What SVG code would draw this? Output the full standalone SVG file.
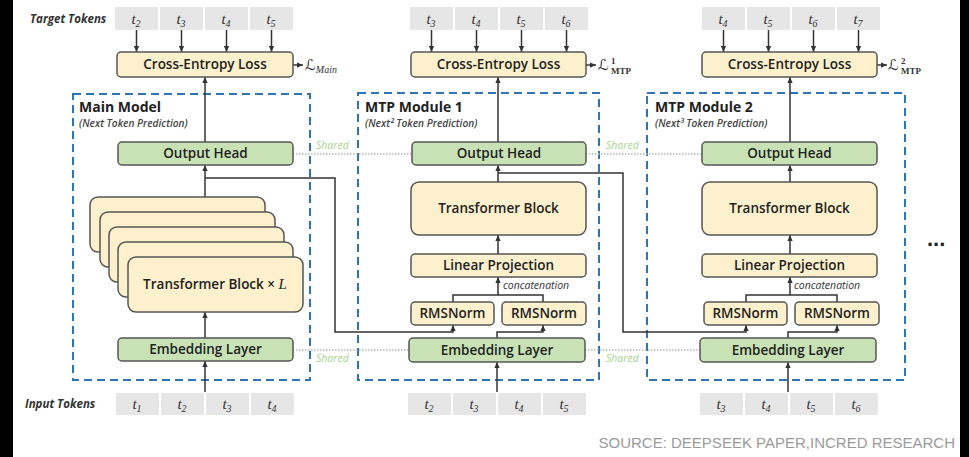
<svg xmlns="http://www.w3.org/2000/svg" width="969" height="457" viewBox="0 0 969 457">
<defs>
  <marker id="arr" viewBox="0 0 8 8" refX="8" refY="4" markerWidth="6" markerHeight="6" markerUnits="userSpaceOnUse" orient="auto">
    <path d="M0,0.5 L8,4 L0,7.5 z" fill="#333"/>
  </marker>
</defs>
<style>
  .tok{fill:#e6e6e6}
  .tl{font-family:"Liberation Serif",serif;font-style:italic;font-size:15px;fill:#333;text-anchor:middle}
  .sub{font-size:10px}
  .ylw{fill:#fdf0cc;stroke:#555;stroke-width:1.5}
  .grn{fill:#c8e2b6;stroke:#555;stroke-width:1.5}
  .bt{font-family:"Open Sans",sans-serif;font-size:13.5px;font-weight:600;fill:#222;text-anchor:middle}
  .mod{fill:none;stroke:#2e75b6;stroke-width:2;stroke-dasharray:8 5}
  .ttl{font-family:"Open Sans",sans-serif;font-size:14px;font-weight:700;fill:#222}
  .sttl{font-family:"Open Sans",sans-serif;font-size:10.2px;font-style:italic;font-weight:600;fill:#444}
  .side{font-family:"Open Sans",sans-serif;font-size:11.5px;font-style:italic;font-weight:700;fill:#333}
  .ln{fill:none;stroke:#333;stroke-width:1.5}
  .ar{fill:none;stroke:#333;stroke-width:1.5;marker-end:url(#arr)}
  .sh{fill:none;stroke:#b0bfae;stroke-width:1.5;stroke-dasharray:1.5 1.5}
  .shl{font-family:"Open Sans",sans-serif;font-size:10.5px;font-style:italic;fill:#a9d18e}
  .cc{font-family:"Open Sans",sans-serif;font-size:10.5px;font-style:italic;fill:#333}
  .lf{font-family:"DejaVu Serif","DejaVu Sans",serif;font-style:italic;font-size:15px;fill:#333}
  .lsub{font-family:"Liberation Serif",serif;font-size:9px;font-weight:700;fill:#333}
  .src{font-family:"Liberation Sans",Arial,sans-serif;font-size:15px;fill:#9a9a9a;text-anchor:end}
  .bar{fill:#000}
</style>

<rect x="0" y="0" width="969" height="457" fill="#fff"/>
<!-- black side bands -->
<path class="bar" d="M0 0H13V457H0Z"/>
<path class="bar" d="M960 0H969V457H960Z"/>

<!-- row captions -->
<text class="side" x="30" y="23">Target Tokens</text>
<text class="side" x="25" y="408" font-weight="600">Input Tokens</text>

<!-- target token rows -->
<g id="target-main">
  <rect class="tok" x="115" y="7" width="43" height="23"/>
  <rect class="tok" x="160" y="7" width="43" height="23"/>
  <rect class="tok" x="205" y="7" width="43" height="23"/>
  <rect class="tok" x="250" y="7" width="43" height="23"/>
  <text class="tl" x="136" y="24">t<tspan class="sub" dy="3">2</tspan></text>
  <text class="tl" x="181" y="24">t<tspan class="sub" dy="3">3</tspan></text>
  <text class="tl" x="226" y="24">t<tspan class="sub" dy="3">4</tspan></text>
  <text class="tl" x="271" y="24">t<tspan class="sub" dy="3">5</tspan></text>
</g>
<g id="target-mtp1">
  <rect class="tok" x="410" y="7" width="43" height="23"/>
  <rect class="tok" x="455" y="7" width="43" height="23"/>
  <rect class="tok" x="500" y="7" width="43" height="23"/>
  <rect class="tok" x="545" y="7" width="43" height="23"/>
  <text class="tl" x="431" y="24">t<tspan class="sub" dy="3">3</tspan></text>
  <text class="tl" x="476" y="24">t<tspan class="sub" dy="3">4</tspan></text>
  <text class="tl" x="521" y="24">t<tspan class="sub" dy="3">5</tspan></text>
  <text class="tl" x="566" y="24">t<tspan class="sub" dy="3">6</tspan></text>
</g>
<g id="target-mtp2">
  <rect class="tok" x="702" y="7" width="43" height="23"/>
  <rect class="tok" x="747" y="7" width="43" height="23"/>
  <rect class="tok" x="792" y="7" width="43" height="23"/>
  <rect class="tok" x="837" y="7" width="43" height="23"/>
  <text class="tl" x="723" y="24">t<tspan class="sub" dy="3">4</tspan></text>
  <text class="tl" x="768" y="24">t<tspan class="sub" dy="3">5</tspan></text>
  <text class="tl" x="813" y="24">t<tspan class="sub" dy="3">6</tspan></text>
  <text class="tl" x="858" y="24">t<tspan class="sub" dy="3">7</tspan></text>
</g>

<!-- input token rows -->
<g id="input-main">
  <rect class="tok" x="116" y="393" width="43" height="22"/>
  <rect class="tok" x="161" y="393" width="43" height="22"/>
  <rect class="tok" x="206" y="393" width="43" height="22"/>
  <rect class="tok" x="251" y="393" width="43" height="22"/>
  <text class="tl" x="137" y="409">t<tspan class="sub" dy="3">1</tspan></text>
  <text class="tl" x="182" y="409">t<tspan class="sub" dy="3">2</tspan></text>
  <text class="tl" x="227" y="409">t<tspan class="sub" dy="3">3</tspan></text>
  <text class="tl" x="272" y="409">t<tspan class="sub" dy="3">4</tspan></text>
</g>
<g id="input-mtp1">
  <rect class="tok" x="408" y="393" width="43" height="22"/>
  <rect class="tok" x="453" y="393" width="43" height="22"/>
  <rect class="tok" x="498" y="393" width="43" height="22"/>
  <rect class="tok" x="543" y="393" width="43" height="22"/>
  <text class="tl" x="429" y="409">t<tspan class="sub" dy="3">2</tspan></text>
  <text class="tl" x="474" y="409">t<tspan class="sub" dy="3">3</tspan></text>
  <text class="tl" x="519" y="409">t<tspan class="sub" dy="3">4</tspan></text>
  <text class="tl" x="564" y="409">t<tspan class="sub" dy="3">5</tspan></text>
</g>
<g id="input-mtp2">
  <rect class="tok" x="700" y="393" width="43" height="22"/>
  <rect class="tok" x="745" y="393" width="43" height="22"/>
  <rect class="tok" x="790" y="393" width="43" height="22"/>
  <rect class="tok" x="835" y="393" width="43" height="22"/>
  <text class="tl" x="721" y="409">t<tspan class="sub" dy="3">3</tspan></text>
  <text class="tl" x="766" y="409">t<tspan class="sub" dy="3">4</tspan></text>
  <text class="tl" x="811" y="409">t<tspan class="sub" dy="3">5</tspan></text>
  <text class="tl" x="856" y="409">t<tspan class="sub" dy="3">6</tspan></text>
</g>

<!-- module frames -->
<g id="main-model">
  <rect class="mod" x="73" y="94" width="237" height="286"/>
  <text class="ttl" x="79" y="112">Main Model</text>
  <text class="sttl" x="79" y="127">(Next Token Prediction)</text>
</g>
<g id="mtp-module-1">
  <rect class="mod" x="358" y="93" width="241" height="287"/>
  <text class="ttl" x="365" y="112">MTP Module 1</text>
  <text class="sttl" x="365" y="127">(Next² Token Prediction)</text>
</g>
<g id="mtp-module-2">
  <rect class="mod" x="647" y="93" width="258" height="287"/>
  <text class="ttl" x="655" y="112">MTP Module 2</text>
  <text class="sttl" x="655" y="127">(Next³ Token Prediction)</text>
</g>

<!-- shared-weight links -->
<g id="shared">
  <line class="sh" x1="293" y1="154" x2="412" y2="154"/>
  <line class="sh" x1="586" y1="154" x2="702" y2="154"/>
  <line class="sh" x1="293" y1="350" x2="409" y2="350"/>
  <line class="sh" x1="585" y1="350" x2="700" y2="350"/>
  <text class="shl" x="316" y="149">Shared</text>
  <text class="shl" x="606" y="149">Shared</text>
  <text class="shl" x="316" y="362">Shared</text>
  <text class="shl" x="606" y="362">Shared</text>
</g>

<!-- connectors -->
<g id="connectors">
  <!-- targets into losses -->
  <line class="ar" x1="136.5" y1="30" x2="136.5" y2="52"/>
  <line class="ar" x1="181.5" y1="30" x2="181.5" y2="52"/>
  <line class="ar" x1="226.5" y1="30" x2="226.5" y2="52"/>
  <line class="ar" x1="271.5" y1="30" x2="271.5" y2="52"/>
  <line class="ar" x1="431.5" y1="30" x2="431.5" y2="52"/>
  <line class="ar" x1="476.5" y1="30" x2="476.5" y2="52"/>
  <line class="ar" x1="521.5" y1="30" x2="521.5" y2="52"/>
  <line class="ar" x1="566.5" y1="30" x2="566.5" y2="52"/>
  <line class="ar" x1="723.5" y1="30" x2="723.5" y2="52"/>
  <line class="ar" x1="768.5" y1="30" x2="768.5" y2="52"/>
  <line class="ar" x1="813.5" y1="30" x2="813.5" y2="52"/>
  <line class="ar" x1="858.5" y1="30" x2="858.5" y2="52"/>
  <!-- loss outputs -->
  <line class="ar" x1="293" y1="65" x2="303" y2="65"/>
  <line class="ar" x1="586" y1="65" x2="596" y2="65"/>
  <line class="ar" x1="877" y1="65" x2="887" y2="65"/>
  <!-- main model path -->
  <line class="ar" x1="205" y1="392" x2="205" y2="361"/>
  <line class="ar" x1="205" y1="338" x2="205" y2="312"/>
  <line class="ar" x1="205" y1="197" x2="205" y2="165"/>
  <line class="ar" x1="205" y1="142" x2="205" y2="77"/>
  <polyline class="ar" points="205,178 335,178 335,332 453,332 453,325"/>
  <!-- MTP module 1 path -->
  <line class="ar" x1="497" y1="392" x2="497" y2="362"/>
  <polyline class="ar" points="497,338 497,332 543,332 543,325"/>
  <polyline class="ln" points="453,302 453,295 543,295 543,302"/>
  <line class="ar" x1="498" y1="295" x2="498" y2="277"/>
  <line class="ar" x1="498" y1="254" x2="498" y2="235"/>
  <line class="ar" x1="498" y1="182" x2="498" y2="165"/>
  <line class="ar" x1="498" y1="142" x2="498" y2="77"/>
  <polyline class="ar" points="498,173 623,173 623,332 746,332 746,325"/>
  <!-- MTP module 2 path -->
  <line class="ar" x1="788" y1="392" x2="788" y2="362"/>
  <polyline class="ar" points="788,338 788,332 837,332 837,325"/>
  <polyline class="ln" points="746,302 746,295 837,295 837,302"/>
  <line class="ar" x1="790" y1="295" x2="790" y2="277"/>
  <line class="ar" x1="790" y1="254" x2="790" y2="235"/>
  <line class="ar" x1="790" y1="182" x2="790" y2="165"/>
  <line class="ar" x1="790" y1="142" x2="790" y2="77"/>
</g>

<!-- loss labels -->
<text class="lf" x="305" y="70">ℒ<tspan font-family="Liberation Serif" font-size="10" dy="3">Main</tspan></text>
<text class="lf" x="598" y="70">ℒ</text>
<text class="lsub" x="611" y="64">1</text>
<text class="lsub" x="611" y="74">MTP</text>
<text class="lf" x="888" y="70">ℒ</text>
<text class="lsub" x="901" y="64">2</text>
<text class="lsub" x="901" y="74">MTP</text>

<!-- main model nodes -->
<g id="loss-main">
  <rect class="ylw" x="117" y="52" width="176" height="25" rx="4"/>
  <text class="bt" x="205" y="69">Cross-Entropy Loss</text>
</g>
<g id="head-main">
  <rect class="grn" x="118" y="142" width="175" height="23" rx="4"/>
  <text class="bt" x="205.5" y="158">Output Head</text>
</g>
<g id="blocks-main">
  <rect class="ylw" x="90" y="197" width="175" height="55" rx="8"/>
  <rect class="ylw" x="100" y="212" width="175" height="55" rx="8"/>
  <rect class="ylw" x="109" y="227" width="175" height="55" rx="8"/>
  <rect class="ylw" x="118" y="242" width="175" height="55" rx="8"/>
  <rect class="ylw" x="128" y="257" width="175" height="55" rx="8"/>
  <text class="bt" x="215" y="289">Transformer Block × <tspan font-family="Liberation Serif" font-style="italic" font-weight="400" font-size="15">L</tspan></text>
</g>
<g id="embed-main">
  <rect class="grn" x="118" y="338" width="175" height="23" rx="4"/>
  <text class="bt" x="205.5" y="354">Embedding Layer</text>
</g>

<!-- MTP module 1 nodes -->
<g id="loss-mtp1">
  <rect class="ylw" x="411" y="52" width="175" height="25" rx="4"/>
  <text class="bt" x="498.5" y="69">Cross-Entropy Loss</text>
</g>
<g id="head-mtp1">
  <rect class="grn" x="412" y="142" width="174" height="23" rx="4"/>
  <text class="bt" x="499" y="158">Output Head</text>
</g>
<g id="block-mtp1">
  <rect class="ylw" x="411" y="182" width="175" height="53" rx="8"/>
  <text class="bt" x="498.5" y="213">Transformer Block</text>
</g>
<g id="proj-mtp1">
  <rect class="ylw" x="411" y="254" width="175" height="23" rx="4"/>
  <text class="bt" x="498.5" y="270">Linear Projection</text>
  <text class="cc" x="503" y="289">concatenation</text>
</g>
<g id="norm-a-mtp1">
  <rect class="ylw" x="411" y="302" width="83" height="23" rx="4"/>
  <text class="bt" x="452.5" y="318">RMSNorm</text>
</g>
<g id="norm-b-mtp1">
  <rect class="ylw" x="502" y="302" width="84" height="23" rx="4"/>
  <text class="bt" x="544" y="318">RMSNorm</text>
</g>
<g id="embed-mtp1">
  <rect class="grn" x="409" y="338" width="176" height="24" rx="4"/>
  <text class="bt" x="497" y="355">Embedding Layer</text>
</g>

<!-- MTP module 2 nodes -->
<g id="loss-mtp2">
  <rect class="ylw" x="702" y="52" width="175" height="25" rx="4"/>
  <text class="bt" x="789.5" y="69">Cross-Entropy Loss</text>
</g>
<g id="head-mtp2">
  <rect class="grn" x="702" y="142" width="175" height="23" rx="4"/>
  <text class="bt" x="789.5" y="158">Output Head</text>
</g>
<g id="block-mtp2">
  <rect class="ylw" x="702" y="182" width="175" height="53" rx="8"/>
  <text class="bt" x="789.5" y="213">Transformer Block</text>
</g>
<g id="proj-mtp2">
  <rect class="ylw" x="702" y="254" width="175" height="23" rx="4"/>
  <text class="bt" x="789.5" y="270">Linear Projection</text>
  <text class="cc" x="794" y="289">concatenation</text>
</g>
<g id="norm-a-mtp2">
  <rect class="ylw" x="704" y="302" width="83" height="23" rx="4"/>
  <text class="bt" x="745.5" y="318">RMSNorm</text>
</g>
<g id="norm-b-mtp2">
  <rect class="ylw" x="795" y="302" width="84" height="23" rx="4"/>
  <text class="bt" x="837" y="318">RMSNorm</text>
</g>
<g id="embed-mtp2">
  <rect class="grn" x="700" y="338" width="176" height="24" rx="4"/>
  <text class="bt" x="788" y="355">Embedding Layer</text>
</g>

<!-- continuation -->
<text x="927" y="246" font-family="Liberation Sans,sans-serif" font-size="22" font-weight="700" fill="#222">...</text>

<text class="src" x="955" y="448">SOURCE: DEEPSEEK PAPER,INCRED RESEARCH</text>
</svg>
